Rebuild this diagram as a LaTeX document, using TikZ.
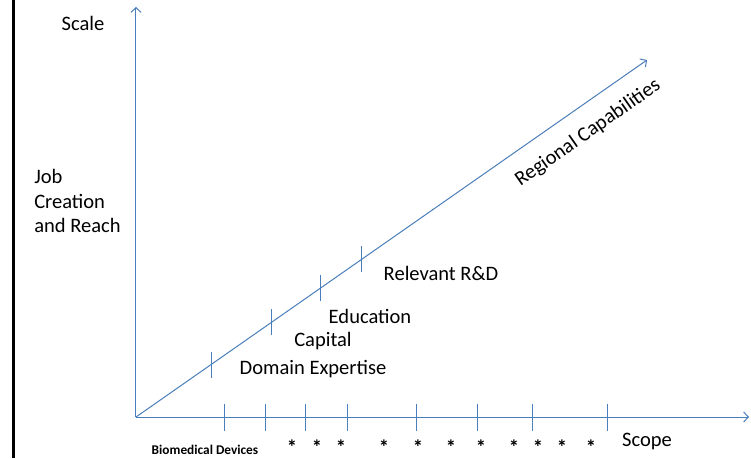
\documentclass[tikz,border=0pt]{standalone}
\usepackage{fontspec}
\setmainfont{Carlito}
\usetikzlibrary{positioning,arrows.meta}
\definecolor{axc}{HTML}{4A7EBB}
\tikzset{
  ax/.style={draw=axc, line width=0.75pt, -{Straight Barb[length=3.5pt,width=7.5pt]}},
  tk/.style={draw=axc, line width=0.75pt},
  lbl/.style={font=\fontsize{15.4}{18.5}\selectfont, inner sep=0pt},
  star/.style={font=\fontsize{15.4}{18}\selectfont\bfseries, inner sep=0pt, anchor=base},
}

\begin{document}
\begin{tikzpicture}[x=0.75pt,y=0.75pt]
  \useasboundingbox (-136,-41) rectangle (615,417);
  \draw[line width=2.25pt] (-122,-41) -- (-122,417);
  \coordinate (o) at (0,0);
  \coordinate (ytop) at (0,410);
  \coordinate (xend) at (613,0);
  \coordinate (dend) at (511,357);
  \draw[ax] (o) -- (ytop);
  \draw[ax] (o) -- (xend);
  \draw[ax] (o) -- (dend);
  % marks along the capabilities line
  \foreach \p [count=\i] in {0.147,0.266,0.362,0.442}
    \path (o) -- (dend) coordinate[pos=\p] (d\i);
  \foreach \i in {1,...,4}
    \draw[tk] ([yshift=9.75pt]d\i) -- ([yshift=-9.75pt]d\i);
  % marks along the scope axis
  \foreach \x in {89,130,170,211,280,341,396,471}
    \draw[tk] (\x,13) -- (\x,-14);
  \foreach \x [count=\i] in {156,181,205,248,282,315,345,378,402,426,455}
    \node[star] (s\i) at (\x,-37) {*};
  \node[lbl] (scale) at (-53,394) {Scale};
  \node[lbl, anchor=west, align=left] (job) at (-102,216) {Job\\Creation\\and Reach};
  \node[lbl] (scope) at (511,-24) {Scope};
  \node[font=\fontsize{10}{12}\selectfont\bfseries, inner sep=0pt] (bio) at (69,-33) {Biomedical Devices};
  \node[lbl] (dom) at (177,48) {Domain Expertise};
  \node[lbl] (cap) at (187,76) {Capital};
  \node[lbl] (edu) at (234,101) {Education};
  \node[lbl] (rd) at (305,144) {Relevant R\&D};
  \node[lbl, rotate=35] (reg) at (452,284) {Regional Capabilities};
\end{tikzpicture}
\end{document}
